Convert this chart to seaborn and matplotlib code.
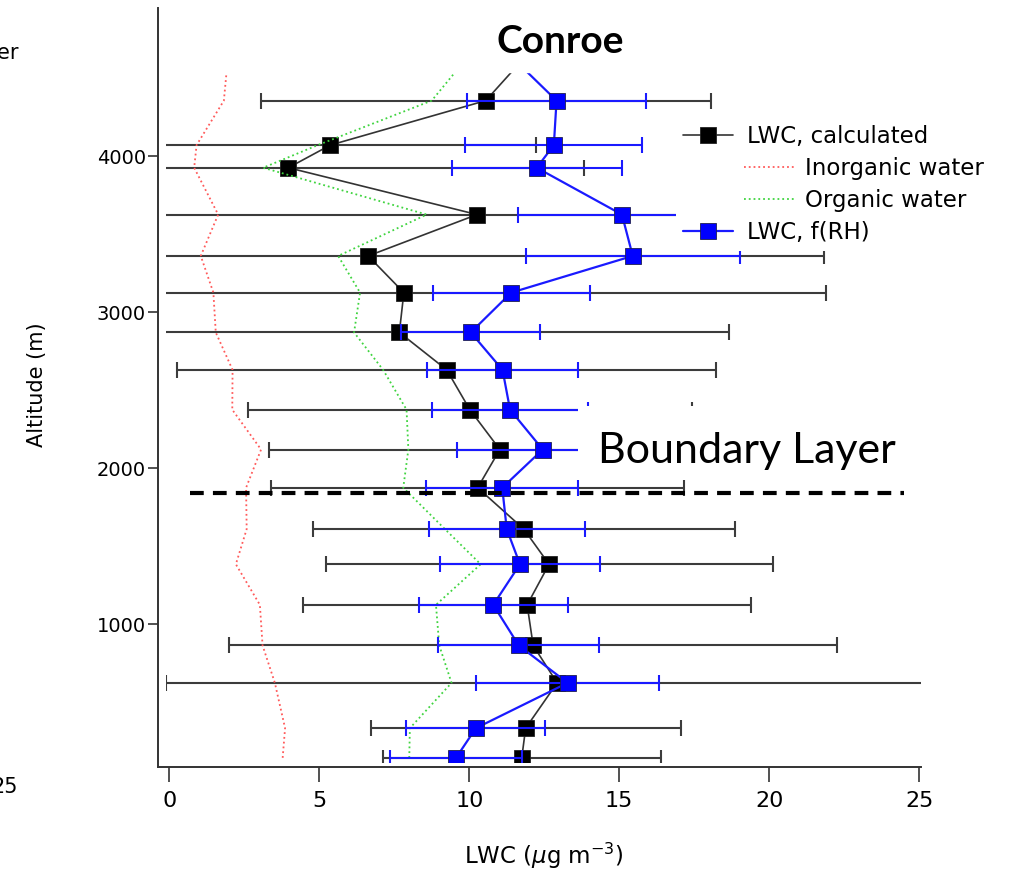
import matplotlib
matplotlib.use("Agg")
import matplotlib.pyplot as plt
import seaborn as sns
import pandas as pd
from matplotlib.patches import Rectangle
from matplotlib.legend_handler import HandlerLine2D

# values, bottom to top (last level sits under the title box)
altitude = [145, 335, 625, 865, 1125, 1385, 1610, 1875, 2120, 2375,
            2630, 2870, 3125, 3360, 3625, 3925, 4070, 4355, 4600]
lwc_calc = [11.75, 11.88, 12.93, 12.13, 11.93, 12.66, 11.82, 10.28, 11.02, 10.02,
            9.25, 7.67, 7.82, 6.63, 10.26, 3.97, 5.37, 10.55, 11.7]
lwc_calc_err = [4.64, 5.17, 13.04, 10.13, 7.46, 7.45, 7.04, 6.89, 7.70, 7.39,
                8.98, 11.0, 14.06, 15.19, 12.0, 9.86, 6.85, 7.5, 7.5]
lwc_rh = [9.56, 10.22, 13.28, 11.65, 10.80, 11.69, 11.25, 11.10, 12.45, 11.36,
          11.11, 10.05, 11.40, 15.45, 15.09, 12.25, 12.82, 12.91, 11.6]
lwc_rh_err = [2.2, 2.32, 3.06, 2.68, 2.48, 2.67, 2.6, 2.54, 2.87, 2.59,
              2.53, 2.31, 2.62, 3.56, 3.45, 2.83, 2.95, 2.97, 3.0]
inorganic_water = [3.78, 3.86, 3.52, 3.11, 3.02, 2.22, 2.58, 2.56, 3.06, 2.10,
                   2.11, 1.55, 1.47, 1.05, 1.63, 0.83, 0.91, 1.82, 1.94]
organic_water = [8.0, 8.02, 9.41, 9.0, 8.89, 10.38, 9.19, 7.8, 7.97, 7.91,
                 7.13, 6.16, 6.36, 5.63, 8.58, 3.13, 4.95, 8.75, 9.8]

x_ticks = [0, 5, 10, 15, 20, 25]
y_ticks = [1000, 2000, 3000, 4000]
boundary_layer_alt = 1841

df = pd.DataFrame({
    "altitude": altitude,
    "lwc_calc": lwc_calc,
    "lwc_calc_err": lwc_calc_err,
    "lwc_rh": lwc_rh,
    "lwc_rh_err": lwc_rh_err,
    "inorganic": inorganic_water,
    "organic": organic_water,
})


class ShiftedLineHandler(HandlerLine2D):
    """Legend sample pushed to the right, like the Igor legend rows without markers."""

    def __init__(self, shift, **kw):
        super().__init__(**kw)
        self.shift = shift

    def create_artists(self, legend, orig_handle, xdescent, ydescent, width, height,
                       fontsize, trans):
        return super().create_artists(legend, orig_handle, xdescent - self.shift * fontsize,
                                      ydescent, width, height, fontsize, trans)


sns.set_style("ticks")
plt.rcParams["font.family"] = ["DejaVu Sans"]
plt.rcParams["text.color"] = "black"
plt.rcParams["axes.labelcolor"] = "black"

fig = plt.figure(figsize=(10.09, 8.73), dpi=100)
ax = fig.add_axes([0.1642, 0.1271, 0.7486, 0.8637])

black = "#333333"
blue = "#1a1aff"

# LWC, calculated
ax.errorbar(df["lwc_calc"], df["altitude"], xerr=df["lwc_calc_err"], fmt="none",
            ecolor="#3c3c3c", elinewidth=1.5, capsize=6, capthick=1.5, zorder=2)
sns.lineplot(data=df, x="lwc_calc", y="altitude", orient="y", sort=True, ax=ax,
             color=black, linewidth=1.2, marker="s", markersize=11.5,
             markerfacecolor="black", markeredgecolor="#222222", markeredgewidth=0.6,
             label="LWC, calculated", zorder=2.1)
# inorganic / organic water
sns.lineplot(data=df, x="inorganic", y="altitude", orient="y", sort=True, ax=ax,
             color="#ff5a5a", linewidth=1.3, linestyle=":",
             label="        Inorganic water", zorder=2.15)
sns.lineplot(data=df, x="organic", y="altitude", orient="y", sort=True, ax=ax,
             color="#3fd43f", linewidth=1.3, linestyle=":",
             label="        Organic water", zorder=2.15)
# LWC, f(RH)
ax.errorbar(df["lwc_rh"], df["altitude"], xerr=df["lwc_rh_err"], fmt="none",
            ecolor=blue, elinewidth=1.5, capsize=5.5, capthick=1.5, zorder=2.2)
sns.lineplot(data=df, x="lwc_rh", y="altitude", orient="y", sort=True, ax=ax,
             color=blue, linewidth=1.6, marker="s", markersize=11.5,
             markerfacecolor="#0000ff", markeredgecolor="#202050", markeredgewidth=0.6,
             label="LWC, f(RH)", zorder=2.25)

ax.set_xlim(-0.12, 25.06)
ax.set_ylim(118, 4948)
ax.set_xticks(x_ticks)
ax.set_yticks(y_ticks)
ax.set_xlabel("LWC ($\\mu$g m$^{-3}$)", fontsize=16.5, labelpad=22)
ax.set_ylabel("Altitude (m)", fontsize=15, labelpad=36)
ax.tick_params(axis="x", direction="out", length=11, width=1.2, colors="#333333",
               labelsize=16, labelcolor="black", pad=6)
ax.tick_params(axis="y", direction="out", length=7, width=1.2, colors="#333333",
               labelsize=14, labelcolor="black", pad=2)

sns.despine(ax=ax)
ax.spines["left"].set_position(("outward", 5.3))
ax.spines["bottom"].set_position(("outward", 3.6))
ax.spines["left"].set_bounds(86, 4948)
ax.spines["bottom"].set_bounds(-0.37, 25.06)
for side in ["left", "bottom"]:
    ax.spines[side].set_linewidth(1.4)
    ax.spines[side].set_color("#333333")

# white box behind the title hides the top of the profile
ax.axhspan(4538, 6000, color="white", zorder=2.4)

# boundary layer annotation
ax.add_patch(Rectangle((13.62, 1922), 12, 477, facecolor="white", edgecolor="none",
                       zorder=3))
ax.text(14.29, 2035, "Boundary Layer", fontsize=31, family=["Lato", "DejaVu Sans"],
        ha="left", va="baseline", zorder=4)
ax.hlines(boundary_layer_alt, 0.7, 24.5, colors="black", linewidth=3,
          linestyles=(0, (3.3, 2.2)), zorder=4, clip_on=False)

handles, labels = ax.get_legend_handles_labels()
shift = ShiftedLineHandler(2.66)
leg = ax.legend(handles, labels, loc="upper left", bbox_to_anchor=(0.6756, 0.854),
                fontsize=16.5, frameon=True, facecolor="white", edgecolor="none",
                framealpha=1, fancybox=False, borderpad=0.3, handlelength=2.18,
                handletextpad=0.61, labelspacing=0.4, borderaxespad=0,
                handler_map={handles[1]: shift, handles[2]: shift})
leg.set_zorder(5)

fig.text(560.5 / 1009, 1 - 53 / 873, "Conroe", ha="center", va="baseline",
         fontsize=28, weight="bold", family=["Lato", "DejaVu Sans"])

# edge of the neighbouring panel
fig.text(19 / 1009, 1 - 59 / 873, "water", ha="right", va="baseline", fontsize=15)
fig.text(5 / 1009, 1 - 793 / 873, "25", ha="center", va="baseline", fontsize=15)

fig.savefig("out.png", dpi=100)
